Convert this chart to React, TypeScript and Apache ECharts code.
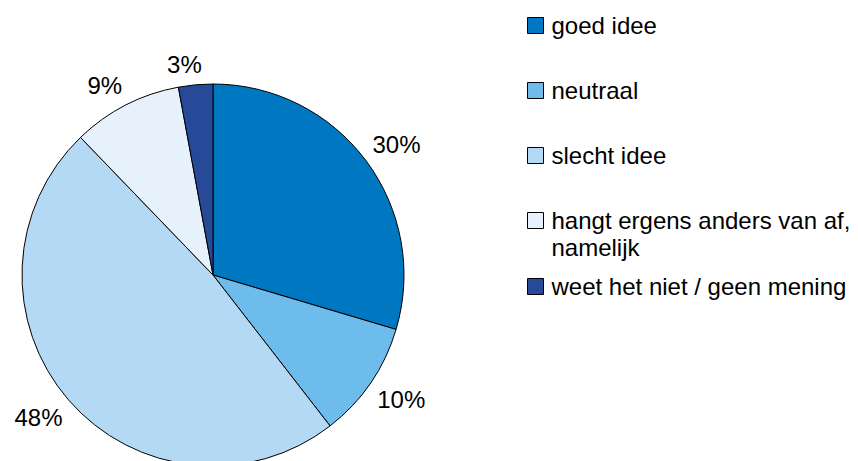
import React, { useEffect, useRef } from "react";
import * as echarts from "echarts";

const categories = [
  "goed idee",
  "neutraal",
  "slecht idee",
  "hangt ergens anders van af,\nnamelijk",
  "weet het niet / geen mening",
];
const values = [29.6, 9.9, 48.3, 9.3, 2.9];
const colors = ["#0078C1", "#6EBCEC", "#B3D9F4", "#E6F1FB", "#274A98"];

const CX = 213;
const CY = 275;
const R = 191;
const LABEL_GAP = 8;
const FONT = "Liberation Sans, Arial, sans-serif";
const LEGEND_FONT = 24;
const LEGEND_LH = 27;
const legendCenters = [27, 92, 157, 222, 288];

const clamp1 = (v: number) => Math.max(-1, Math.min(1, v));

export default function App() {
  const ref = useRef<HTMLDivElement>(null);
  useEffect(() => {
    if (!ref.current) return;
    const chart = echarts.init(ref.current, null, { renderer: "svg" });
    const total = values.reduce((a, b) => a + b, 0);

    const legends = categories.map((name, i) => {
      const lines = name.split("\n");
      const multi = lines.length > 1;
      const nLines = multi ? lines.length + 1 : 1;
      const h = nLines * LEGEND_LH;
      return {
        orient: "vertical",
        left: 527,
        top: legendCenters[i] - h / 2,
        padding: 0,
        itemWidth: 16,
        itemHeight: 16,
        itemGap: 0,
        icon: "rect",
        selectedMode: false,
        data: [name],
        itemStyle: { borderColor: "#000", borderWidth: 1 },
        formatter: () =>
          multi
            ? "{a| }\n" + lines.map((l) => "{a|" + l + "}").join("\n")
            : "{a|" + name + "}",
        textStyle: {
          fontFamily: FONT,
          fontSize: LEGEND_FONT,
          color: "#000",
          rich: {
            a: {
              fontFamily: FONT,
              fontSize: LEGEND_FONT,
              lineHeight: LEGEND_LH,
              color: "#000",
              padding: [0, 0, 0, 3],
            },
          },
        },
      };
    });

    chart.setOption({
      animation: false,
      backgroundColor: "#fff",
      legend: legends,
      series: [
        {
          type: "pie",
          center: [CX, CY],
          radius: R,
          startAngle: 90,
          clockwise: true,
          percentPrecision: 0,
          avoidLabelOverlap: false,
          data: categories.map((name, i) => ({
            name,
            value: values[i],
            itemStyle: { color: colors[i] },
          })),
          itemStyle: { borderColor: "#000", borderWidth: 1 },
          label: {
            show: true,
            position: "inside",
            formatter: "{d}%",
            fontFamily: FONT,
            fontSize: 24,
            color: "#000",
          },
          labelLine: { show: false },
          labelLayout: (p: any) => {
            const i = p.dataIndex;
            const before = values.slice(0, i).reduce((a, b) => a + b, 0);
            const mid = ((before + values[i] / 2) / total) * Math.PI * 2;
            const sx = Math.sin(mid);
            const sy = -Math.cos(mid);
            const w = p.labelRect.width;
            const h = p.labelRect.height;
            const ax = CX + (R + LABEL_GAP) * sx;
            const ay = CY + (R + LABEL_GAP) * sy;
            return {
              x: ax + (w / 2) * clamp1(sx / 0.15),
              y: ay + (h / 2) * clamp1(sy / 0.15),
              align: "center",
              verticalAlign: "middle",
            };
          },
          emphasis: { disabled: true },
        },
      ],
    });
    return () => chart.dispose();
  }, []);
  return (
    <div
      ref={ref}
      style={{ position: "fixed", left: 0, top: 0, width: 858, height: 461 }}
    />
  );
}
